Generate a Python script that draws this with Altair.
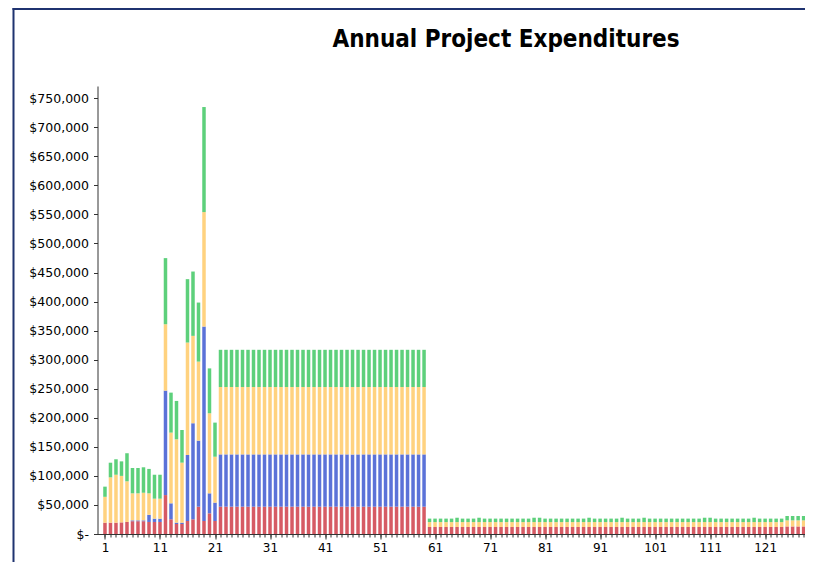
import altair as alt
import pandas as pd

# ---- data (values in thousands of dollars) ----
YEARS = list(range(1, 129))
SERIES = ["Series 1", "Series 2", "Series 3", "Series 4"]
COLORS = ["#d65a64", "#5b72d8", "#ffd27f", "#5dd07b"]
TITLE = "Annual Project Expenditures"

red = [19.5, 19.5, 19.5, 20, 20.7, 22, 22, 22, 20.7, 20.7,
       20.7, 67, 25.3, 17.2, 17.2, 22.4, 25.3, 47, 22.4, 35.6,
       22.4, 47, 47, 47, 47, 47, 47, 47, 47, 47,
       47, 47, 47, 47, 47, 47, 47, 47, 47, 47,
       47, 47, 47, 47, 47, 47, 47, 47, 47, 47,
       47, 47, 47, 47, 47, 47, 47, 47, 47, 12,
       12, 12, 12, 12, 12, 12, 12, 12, 12, 12,
       12, 12, 12, 12, 12, 12, 12, 12, 12, 12,
       12, 12, 12, 12, 12, 12, 12, 12, 12, 12,
       12, 12, 12, 12, 12, 12, 12, 12, 12, 12,
       12, 12, 12, 12, 12, 12, 12, 12, 12, 12,
       12, 12, 12, 12, 12, 12, 12, 12, 12, 12,
       12, 12, 12, 12, 13, 13, 13, 13]

blue = [0, 0, 0, 0, 0, 1.5, 1.5, 1.5, 12.3, 5.7,
        5.7, 179.8, 27.5, 2.3, 2.3, 113.6, 165.3, 113.7, 334.6, 34.4,
        31.6, 90, 90, 90, 90, 90, 90, 90, 90, 90,
        90, 90, 90, 90, 90, 90, 90, 90, 90, 90,
        90, 90, 90, 90, 90, 90, 90, 90, 90, 90,
        90, 90, 90, 90, 90, 90, 90, 90, 90, 0,
        0, 0, 0, 0, 0, 0, 0, 0, 0, 0,
        0, 0, 0, 0, 0, 0, 0, 0, 0, 0,
        0, 0, 0, 0, 0, 0, 0, 0, 0, 0,
        0, 0, 0, 0, 0, 0, 0, 0, 0, 0,
        0, 0, 0, 0, 0, 0, 0, 0, 0, 0,
        0, 0, 0, 0, 0, 0, 0, 0, 0, 0,
        0, 0, 0, 0, 0, 0, 0, 0]

orange = [44.5, 78, 82.5, 80, 70, 46.5, 46.5, 47.5, 37, 34.4,
          34.4, 114.2, 121.7, 143.5, 103.3, 193.5, 150.4, 136, 197, 137.8,
          79, 116, 116, 116, 116, 116, 116, 116, 116, 116,
          116, 116, 116, 116, 116, 116, 116, 116, 116, 116,
          116, 116, 116, 116, 116, 116, 116, 116, 116, 116,
          116, 116, 116, 116, 116, 116, 116, 116, 116, 8.5,
          8.5, 8.5, 8.5, 8.5, 8.5, 8.5, 8.5, 8.5, 8.5, 8.5,
          8.5, 8.5, 8.5, 8.5, 8.5, 8.5, 8.5, 8.5, 8.5, 8.5,
          8.5, 8.5, 8.5, 8.5, 8.5, 8.5, 8.5, 8.5, 8.5, 8.5,
          8.5, 8.5, 8.5, 8.5, 8.5, 8.5, 8.5, 8.5, 8.5, 8.5,
          8.5, 8.5, 8.5, 8.5, 8.5, 8.5, 8.5, 8.5, 8.5, 8.5,
          8.5, 8.5, 8.5, 8.5, 8.5, 8.5, 8.5, 8.5, 8.5, 8.5,
          8.5, 8.5, 8.5, 8.5, 10.5, 10.5, 10.5, 10.5]

green = [17.5, 25.2, 26.6, 25, 48.3, 43.6, 43.6, 43.8, 42, 41.2,
         41.2, 113.8, 68.8, 66, 56.2, 109.1, 110.7, 101.6, 180.8, 77.2,
         58.7, 64, 64, 64, 64, 64, 64, 64, 64, 64,
         64, 64, 64, 64, 64, 64, 64, 64, 64, 64,
         64, 64, 64, 64, 64, 64, 64, 64, 64, 64,
         64, 64, 64, 64, 64, 64, 64, 64, 64, 6,
         6, 6, 6, 6, 7.5, 6, 6, 6, 7.5, 6,
         6, 6, 6, 6, 6, 6, 6, 6, 7.5, 7.5,
         6, 6, 6, 6, 6, 6, 6, 6, 7.5, 6,
         6, 6, 6, 6, 7.5, 6, 6, 6, 7.5, 6,
         6, 6, 6, 6, 6, 6, 6, 6, 6, 7.5,
         7.5, 6, 6, 6, 6, 6, 6, 6, 7.5, 6,
         6, 6, 6, 6, 7.5, 7.5, 7.5, 7.5]

X_LABELS = [1, 11, 21, 31, 41, 51, 61, 71, 81, 91, 101, 111, 121]
Y_TICKS = [0, 50000, 100000, 150000, 200000, 250000, 300000, 350000,
           400000, 450000, 500000, 550000, 600000, 650000, 700000, 750000]

rows = []
for i, yr in enumerate(YEARS):
    for k, vals in enumerate([red, blue, orange, green]):
        rows.append({"year": yr, "series": SERIES[k],
                     "amount": vals[i] * 1000, "order": k})
df = pd.DataFrame(rows)

FONT = "DejaVu Sans"
W, H = 707.5, 448
xscale = alt.Scale(domain=[0.55, 127.34], nice=False, zero=False)
yscale = alt.Scale(domain=[0, 771000], nice=False)

bars = alt.Chart(df).mark_bar(size=3.5).encode(
    x=alt.X("year:Q", scale=xscale,
            axis=alt.Axis(values=X_LABELS, title=None, grid=False, orient="bottom",
                          tickSize=5, labelPadding=3, labelFont=FONT, labelFontSize=12,
                          labelColor="black", domainColor="#333333", tickColor="#333333",
                          labelFlush=False, labelOverlap=False)),
    y=alt.Y("amount:Q", stack="zero", scale=yscale,
            axis=alt.Axis(values=Y_TICKS, title=None, grid=False,
                          labelExpr="datum.value == 0 ? '$-' : '$' + format(datum.value, ',')",
                          tickSize=4, labelPadding=5, labelFont=FONT, labelFontSize=12.5,
                          labelColor="black", domainColor="#333333", tickColor="#333333")),
    color=alt.Color("series:N", scale=alt.Scale(domain=SERIES, range=COLORS), legend=None),
    order=alt.Order("order:Q"),
)

minor = alt.Chart(pd.DataFrame({"year": YEARS})).mark_point(opacity=0).encode(
    x=alt.X("year:Q", scale=xscale,
            axis=alt.Axis(values=YEARS, labels=False, title=None, grid=False, orient="bottom",
                          tickSize=3, domain=False, tickColor="#333333")),
    y=alt.value(0),
)

one = alt.Chart(pd.DataFrame({"a": [0]}))
left_border = one.mark_rule(color="#1f3370", strokeWidth=2).encode(
    x=alt.value(-84), y=alt.value(-78), y2=alt.value(H + 28))
top_border = one.mark_rule(color="#1f3370", strokeWidth=2).encode(
    x=alt.value(-85), x2=alt.value(W + 1), y=alt.value(-77))
title = one.mark_text(text=TITLE, font="DejaVu Sans Condensed", fontSize=24,
                      fontWeight="bold", align="center", baseline="alphabetic",
                      color="black").encode(x=alt.value(408.5), y=alt.value(-39))

chart = alt.layer(bars, minor, left_border, top_border, title).resolve_axis(
    x="independent"
).properties(
    width=W,
    height=H,
    autosize=alt.AutoSizeParams(type="none"),
    padding={"left": 89.5, "top": 78, "right": 0, "bottom": 28},
).configure(background="white", view=alt.ViewConfig(stroke=None))

chart.save("out.html", embed_options={"renderer": "svg", "actions": False})
